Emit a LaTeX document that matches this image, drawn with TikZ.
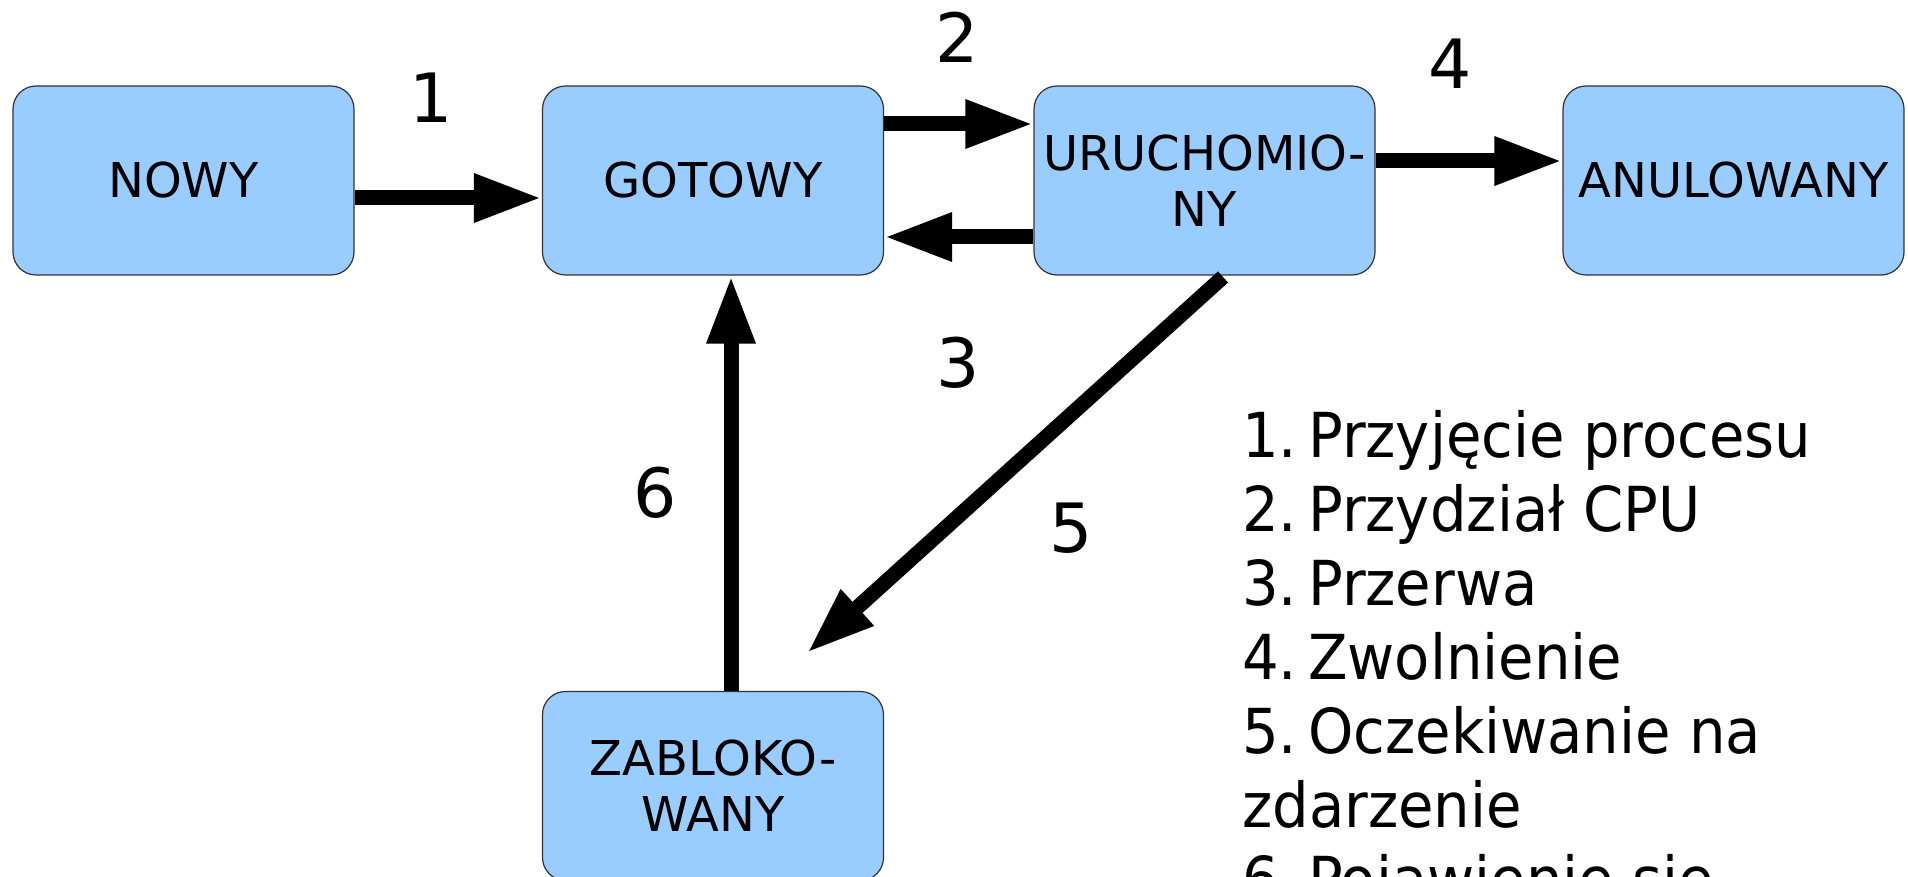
\documentclass[tikz,border=0pt]{standalone}
\usepackage{fontspec}
\setmainfont{DejaVu Sans}
\newfontfamily\legendfont{DejaVu Sans}[FakeStretch=0.93]
\usetikzlibrary{arrows.meta}
\definecolor{statefill}{HTML}{99CCFF}
\definecolor{stateedge}{HTML}{333333}
\newcommand{\itemgap}{\hspace{11pt}}
\tikzset{
  state/.style={draw=stateedge, line width=1.2pt, fill=statefill,
    rounded corners=23pt, minimum width=341pt, minimum height=189pt,
    inner sep=0pt, align=center,
    font=\fontsize{48}{56}\selectfont},
  conn/.style={line width=15pt, -{Triangle[length=68pt,width=45pt]}},
  num/.style={inner sep=0pt, font=\fontsize{68}{80}\selectfont},
  legline/.style={inner sep=0pt, anchor=base west,
    font=\legendfont\fontsize{62}{74}\selectfont}
}
\begin{document}
\begin{tikzpicture}[x=1pt, y=-1pt]
  \clip (0,0) rectangle (1908,877);
  \fill[white] (0,0) rectangle (1908,877);

  % process states
  \node[state] (nowy)  at (183.5,180.5) {NOWY};
  \node[state] (got)   at (713,180.5)   {GOTOWY};
  \node[state] (uru)   at (1204.5,180.5) {URUCHOMIO-\\NY};
  \node[state] (anul)  at (1733.5,180.5) {ANULOWANY};
  \node[state] (zabl)  at (713,786)     {ZABLOKO-\\WANY};

  % transitions
  \draw[conn] (nowy.east |- 0,198) -- (got.west |- 0,198);
  \draw[conn] (got.east |- 0,124) -- (uru.west |- 0,124);
  \draw[conn] (uru.west |- 0,237) -- (got.east |- 0,237);
  \draw[conn] (uru.east |- 0,161) -- (anul.west |- 0,161);
  \coordinate (waitA) at (1223,277);
  \coordinate (waitB) at (807,653);
  \draw[conn] (waitA) -- (waitB);
  \draw[conn] (zabl.north -| 731,0) -- (got.south -| 731,0);

  % transition numbers
  \node[num] (n1) at (431,98)  {1};
  \node[num] (n2) at (957,37)  {2};
  \node[num] (n3) at (958,363) {3};
  \node[num] (n4) at (1450,64) {4};
  \node[num] (n5) at (1071,528) {5};
  \node[num] (n6) at (655,493) {6};

  % legend
  \node[legline] (l1) at (1242,457) {1.\itemgap Przyjęcie procesu};
  \node[legline] (l2) at (1242,531) {2.\itemgap Przydział CPU};
  \node[legline] (l3) at (1242,605) {3.\itemgap Przerwa};
  \node[legline] (l4) at (1242,679) {4.\itemgap Zwolnienie};
  \node[legline] (l5) at (1242,753) {5.\itemgap Oczekiwanie na};
  \node[legline] (l6) at (1242,827) {zdarzenie};
  \node[legline] (l7) at (1242,901) {6.\itemgap Pojawienie się};
\end{tikzpicture}
\end{document}
